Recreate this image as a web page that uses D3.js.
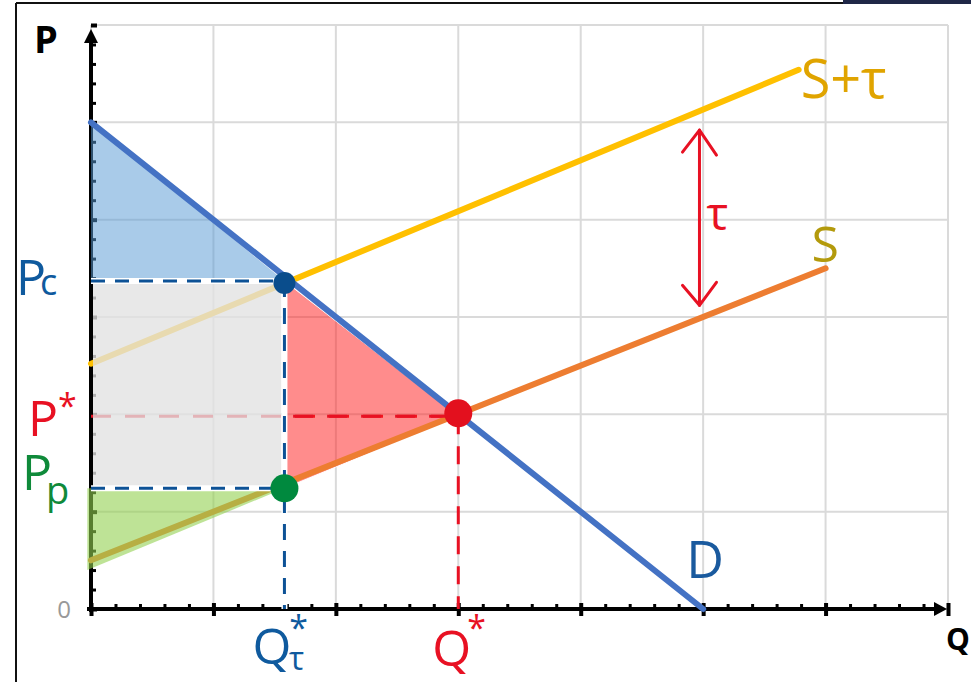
<!DOCTYPE html>
<html>
<head>
<meta charset="utf-8">
<script src="https://cdn.jsdelivr.net/npm/d3@7"></script>
<style>
  html, body { margin: 0; padding: 0; background: #fff; }
  svg { display: block; }
  .lbl { font-family: "Open Sans", "Noto Sans", sans-serif; }
</style>
</head>
<body>
<svg id="chart" width="971" height="682"></svg>
<script>
// --- values (Q on x, P on y) ---
const Q_DOMAIN = [0, 7];
const P_DOMAIN = [0, 6];
const demand = [[0, 5], [5, 0]];
const supply = [[0, 0.5], [6, 3.5]];
const supplyTax = [[0, 2.52], [5.78, 5.54]];
const qStar = 3, pStar = 1.98;
const qTax = 1.58, pConsumer = 3.37, pProducer = 1.24;
const taxArrow = [[4.97, 4.92], [4.97, 3.12]];
const majorStep = 1, minorStep = 0.2;

const svg = d3.select("#chart");
const x = d3.scaleLinear().domain(Q_DOMAIN).range([91, 948]);
const y = d3.scaleLinear().domain(P_DOMAIN).range([609, 25]);
const line = d3.line().x(d => x(d[0])).y(d => y(d[1]));

// frame bits of the screenshot
svg.append("line").attr("x1", 16).attr("x2", 16).attr("y1", 3).attr("y2", 682)
    .attr("stroke", "#111").attr("stroke-width", 2);
svg.append("line").attr("x1", 16).attr("x2", 843).attr("y1", 3).attr("y2", 3)
    .attr("stroke", "#111").attr("stroke-width", 2);
svg.append("rect").attr("x", 843).attr("y", 0).attr("width", 128).attr("height", 4).attr("fill", "#1f2747");

// grid
const grid = svg.append("g");
grid.selectAll(".gx").data(d3.range(Q_DOMAIN[0], Q_DOMAIN[1] + 0.01, majorStep)).join("line")
    .attr("x1", d => x(d)).attr("x2", d => x(d)).attr("y1", y(P_DOMAIN[0])).attr("y2", y(P_DOMAIN[1]))
    .attr("stroke", "#dadada").attr("stroke-width", 2);
grid.selectAll(".gy").data(d3.range(P_DOMAIN[0], P_DOMAIN[1] + 0.01, majorStep)).join("line")
    .attr("y1", d => y(d)).attr("y2", d => y(d)).attr("x1", x(Q_DOMAIN[0])).attr("x2", x(Q_DOMAIN[1]))
    .attr("stroke", "#dadada").attr("stroke-width", 2);

// axes: minor ticks then major ticks, restyled
function styleAxis(g) {
    g.select(".domain").remove();
    g.selectAll("text").remove();
    g.selectAll("line").attr("stroke", "#000").attr("stroke-width", 3);
}
const minorQ = d3.range(0, Q_DOMAIN[1], minorStep).filter(d => Math.abs(d - Math.round(d)) > 1e-6);
const minorP = d3.range(0, P_DOMAIN[1], minorStep).filter(d => Math.abs(d - Math.round(d)) > 1e-6);

const xAxis = svg.append("g").attr("transform", `translate(0,${y(0)})`);
xAxis.append("g").call(d3.axisTop(x).tickValues(minorQ).tickSize(5)).call(styleAxis);
xAxis.append("g").call(d3.axisBottom(x).tickValues(d3.range(0, Q_DOMAIN[1] + 0.01, majorStep)).tickSize(7))
    .call(styleAxis)
    .selectAll("line").attr("y1", -6).attr("stroke-width", 4);
xAxis.append("line").attr("x1", x(0) - 4).attr("x2", x(Q_DOMAIN[1]) - 10)
    .attr("stroke", "#000").attr("stroke-width", 4);
xAxis.append("path").attr("d", `M${x(Q_DOMAIN[1]) - 14},-7L${x(Q_DOMAIN[1]) - 1},0L${x(Q_DOMAIN[1]) - 14},7Z`).attr("fill", "#000");

const yAxis = svg.append("g").attr("transform", `translate(${x(0)},0)`);
yAxis.append("g").call(d3.axisRight(y).tickValues(minorP).tickSize(5)).call(styleAxis);
yAxis.append("g").call(d3.axisLeft(y).tickValues(d3.range(0, P_DOMAIN[1] + 0.01, majorStep)).tickSize(7))
    .call(styleAxis)
    .selectAll("line").attr("x2", 6).attr("stroke-width", 4);
yAxis.append("line").attr("y1", y(0) + 3).attr("y2", y(P_DOMAIN[1]) + 10)
    .attr("stroke", "#000").attr("stroke-width", 4);
yAxis.append("path").attr("d", `M-7,${y(P_DOMAIN[1]) + 18}L0,${y(P_DOMAIN[1]) + 4}L7,${y(P_DOMAIN[1]) + 18}Z`).attr("fill", "#000");

// tax supply and P* guide go under the grey rectangle
svg.append("path").attr("d", line(supplyTax)).attr("fill", "none").attr("stroke", "#ffc000")
    .attr("stroke-width", 6).attr("stroke-linecap", "round");
svg.append("path").attr("d", line([[0, pStar], [qStar, pStar]])).attr("fill", "none")
    .attr("stroke", "#e81123").attr("stroke-width", 3).attr("stroke-dasharray", "20,14");

// shaded areas
const areas = svg.append("g");
areas.append("path")
    .attr("d", line([[0, demand[0][1]], [qTax, pConsumer], [0, pConsumer]]) + "Z")
    .attr("fill", "#5b9bd5").attr("fill-opacity", 0.52);
areas.append("rect")
    .attr("x", x(0) + 2).attr("y", y(pConsumer))
    .attr("width", x(qTax) - x(0) - 5).attr("height", y(pProducer) - y(pConsumer))
    .attr("fill", "#e2e2e2").attr("fill-opacity", 0.78);
areas.append("path")
    .attr("d", line([[qTax, pConsumer], [qStar, pStar], [qTax, pProducer]]) + "Z")
    .attr("fill", "#ff1a1a").attr("fill-opacity", 0.5)
    .attr("stroke", "#fff").attr("stroke-width", 1);

// supply drawn over the red area, then the green area over it
svg.append("path").attr("d", line(supply)).attr("fill", "none").attr("stroke", "#ed7d31")
    .attr("stroke-width", 6).attr("stroke-linecap", "round");
svg.append("path")
    .attr("d", line([[-0.03, pProducer], [qTax, pProducer], [-0.03, supply[0][1] - 0.1]]) + "Z")
    .attr("fill", "#92d050").attr("fill-opacity", 0.6);

// demand on top
svg.append("path").attr("d", line(demand)).attr("fill", "none").attr("stroke", "#4472c4")
    .attr("stroke-width", 6).attr("stroke-linecap", "round");

// dashed guides with white halo
function dashed(pts, color, dash) {
    svg.append("path").attr("d", line(pts)).attr("fill", "none").attr("stroke", "#fff").attr("stroke-width", 6);
    svg.append("path").attr("d", line(pts)).attr("fill", "none").attr("stroke", color)
        .attr("stroke-width", 3).attr("stroke-dasharray", dash);
}
dashed([[0, pConsumer], [qTax, pConsumer]], "#0d5296", "14,10");
dashed([[0, pProducer], [qTax, pProducer]], "#0d5296", "14,10");
dashed([[qTax, pConsumer], [qTax, 0]], "#0d5296", "16,11");
svg.append("path").attr("d", line([[qTax * 0.95 + qStar * 0.05, pStar], [qStar, pStar]])).attr("fill", "none")
    .attr("stroke", "#e81123").attr("stroke-width", 3).attr("stroke-dasharray", "20,14");
svg.append("path").attr("d", line([[qStar, pStar], [qStar, 0]])).attr("fill", "none")
    .attr("stroke", "#e81123").attr("stroke-width", 3).attr("stroke-dasharray", "18,12");

// points
svg.append("circle").attr("cx", x(qTax)).attr("cy", y(pConsumer) + 2).attr("r", 11).attr("fill", "#0a4d8c");
svg.append("circle").attr("cx", x(qTax)).attr("cy", y(pProducer)).attr("r", 14).attr("fill", "#00893e");
svg.append("circle").attr("cx", x(qStar)).attr("cy", y(pStar) - 3).attr("r", 14).attr("fill", "#e3101e");

// tax arrow
const ax = x(taxArrow[0][0]), aTop = y(taxArrow[0][1]), aBot = y(taxArrow[1][1]);
const arrow = svg.append("g").attr("stroke", "#e81123").attr("stroke-width", 3)
    .attr("fill", "none").attr("stroke-linecap", "round").attr("stroke-linejoin", "round");
arrow.append("path").attr("d", `M${ax},${aTop}L${ax},${aBot}`);
arrow.append("path").attr("d", `M${ax - 17},${aTop + 22}L${ax},${aTop}L${ax + 17},${aTop + 25}`);
arrow.append("path").attr("d", `M${ax - 17},${aBot - 20}L${ax},${aBot}L${ax + 17},${aBot - 23}`);

// labels
function label(txt, px, py, size, color, weight) {
    return svg.append("text").attr("class", "lbl").attr("x", px).attr("y", py)
        .attr("font-size", size).attr("fill", color).attr("font-weight", weight || 400).text(txt);
}
label("P", 46, 53, 38, "#000", 700).attr("text-anchor", "middle");
label("Q", 946, 650, 30, "#000", 700);
label("0", 71, 618, 24, "#999").attr("text-anchor", "end");

const pc = label("P", 16, y(pConsumer) + 14, 50, "#0f5a9e");
pc.append("tspan").attr("font-size", 36).attr("dx", -6).text("c");
const ps = label("P", 28, y(pStar) + 20, 50, "#e81123");
ps.append("tspan").attr("font-size", 34).attr("dy", -18).text("*");
const pp = label("P", 22, y(pProducer) + 2, 50, "#0f8a3a");
pp.append("tspan").attr("font-size", 38).attr("dx", -6).attr("dy", 14).text("p");

const qt = label("Q", x(qTax) - 32, 664, 50, "#0f5a9e");
qt.append("tspan").attr("font-size", 34).attr("dx", -2).attr("dy", -24).text("*");
qt.append("tspan").attr("font-size", 32).attr("dx", -19).attr("dy", 30).text("τ");
const qs = label("Q", x(qStar) - 26, 666, 50, "#e81123");
qs.append("tspan").attr("font-size", 34).attr("dx", -4).attr("dy", -26).text("*");

label("D", x(demand[1][0]) - 17, 578, 52, "#1a5a9e");
label("S+τ", x(supplyTax[1][0]) + 2, 98, 54, "#e0a400");
label("S", x(supply[1][0]) - 14, 262, 50, "#b39a0c");
label("τ", ax + 7, 230, 46, "#e81123");
</script>
</body>
</html>
